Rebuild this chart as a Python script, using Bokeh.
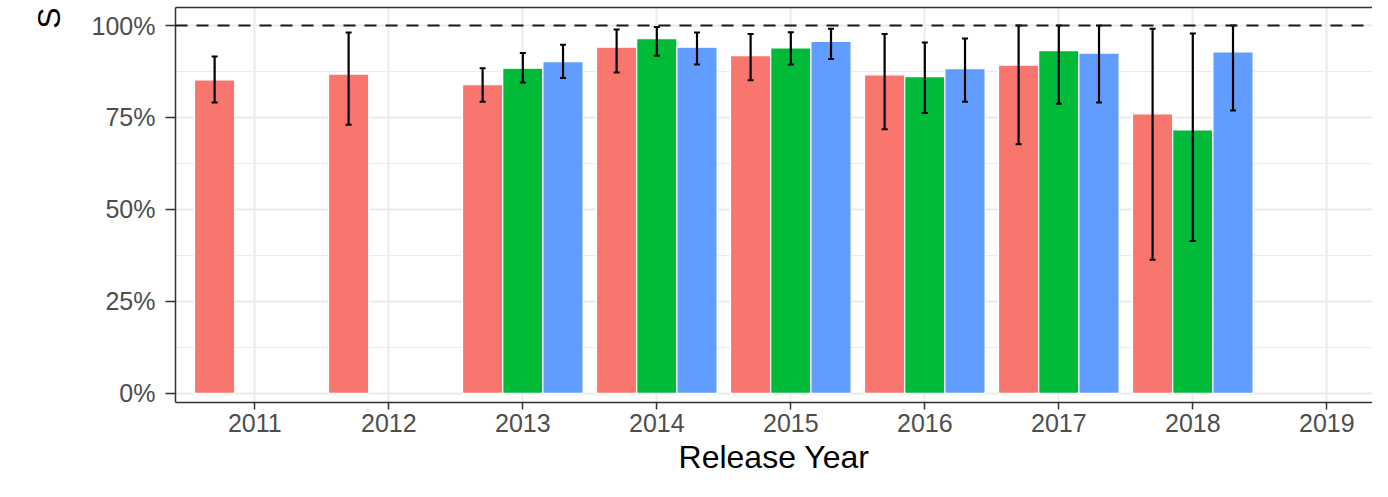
import math
from bokeh.plotting import figure
from bokeh.models import (ColumnDataSource, FixedTicker, PrintfTickFormatter, Whisker,
                          TeeHead, Span, LinearAxis, Title, Range1d)
from bokeh.transform import dodge
from bokeh.embed import file_html
from bokeh.resources import INLINE

# ---- data (success rate, %) ----
red_years = [2011, 2012, 2013, 2014, 2015, 2016, 2017, 2018]
red_rate = [85.2, 86.8, 83.9, 94.1, 91.8, 86.6, 89.2, 76.0]
red_lo = [79.1, 73.0, 79.3, 87.2, 85.1, 71.8, 67.7, 36.3]
red_hi = [91.6, 98.1, 88.4, 98.9, 97.7, 97.7, 100.0, 99.1]

green_years = [2013, 2014, 2015, 2016, 2017, 2018]
green_rate = [88.4, 96.4, 93.9, 86.1, 93.2, 71.6]
green_lo = [84.5, 91.8, 89.4, 76.2, 78.7, 41.4]
green_hi = [92.5, 99.6, 98.2, 95.4, 100.0, 97.8]

blue_years = [2013, 2014, 2015, 2016, 2017, 2018]
blue_rate = [90.2, 94.1, 95.7, 88.3, 92.5, 92.8]
blue_lo = [85.7, 89.4, 90.9, 79.3, 79.1, 76.9]
blue_hi = [94.8, 98.1, 99.1, 96.5, 100.0, 100.0]

year_ticks = [2011, 2012, 2013, 2014, 2015, 2016, 2017, 2018, 2019]
y_ticks = [0, 25, 50, 75, 100]
y_minor = [12.5, 37.5, 62.5, 87.5]
reference_level = 100

colors = ["#F8766D", "#00BA38", "#619CFF"]
offsets = [-0.3, 0.0, 0.3]
bar_w = 0.3

W, H = 1372, 481
LEFT, TOP, BOTTOM = 175, 7, 79
X0, X1 = 2010.408, 2019.341
Y0, Y1 = -2.5, 104.9

p = figure(width=W, height=H, output_backend="svg", toolbar_location=None,
           x_range=Range1d(X0, X1), y_range=Range1d(Y0, Y1),
           min_border_left=LEFT, min_border_right=0, min_border_top=TOP,
           min_border_bottom=BOTTOM)
p.outline_line_color = None
p.background_fill_color = "white"

# grid
p.xgrid.grid_line_color = "#EBEBEB"
p.xgrid.grid_line_width = 2
p.ygrid.grid_line_color = "#EBEBEB"
p.ygrid.grid_line_width = 2
p.ygrid.minor_grid_line_color = "#EBEBEB"
p.ygrid.minor_grid_line_width = 1.2

# axes
p.xaxis.ticker = FixedTicker(ticks=year_ticks)
p.xaxis.formatter = PrintfTickFormatter(format="%d")
p.yaxis.ticker = FixedTicker(ticks=y_ticks, minor_ticks=y_minor)
p.yaxis.formatter = PrintfTickFormatter(format="%d%%")
for ax in (p.xaxis[0], p.yaxis[0]):
    ax.axis_line_color = "#333333"
    ax.axis_line_width = 1.5
    ax.major_tick_line_color = "#333333"
    ax.major_tick_line_width = 1.5
    ax.major_tick_in = 0
    ax.minor_tick_line_color = None
    ax.major_label_text_color = "#4D4D4D"
    ax.major_label_text_font = "Liberation Sans"
p.yaxis.major_tick_out = 10
p.yaxis.major_label_text_font_size = "25px"
p.yaxis.major_label_standoff = 10
p.xaxis.major_tick_out = 7
p.xaxis.major_label_text_font_size = "25px"
p.xaxis.major_label_standoff = 4
p.xaxis.axis_label = "Release Year"
p.xaxis.axis_label_text_font = "Liberation Sans"
p.xaxis.axis_label_text_font_size = "32px"
p.xaxis.axis_label_text_font_style = "normal"
p.xaxis.axis_label_text_color = "black"
p.xaxis.axis_label_standoff = 4

top_axis = LinearAxis(ticker=FixedTicker(ticks=[]), major_label_text_font_size="0px",
                      axis_line_color="#333333", axis_line_width=1.5,
                      major_tick_out=0, minor_tick_out=0, major_tick_line_color=None,
                      minor_tick_line_color=None)
p.add_layout(top_axis, "above")

# y-axis title: only its first letter shows in the reference
p.add_layout(Title(text="S", align="right", vertical_align="top",
                   text_font="Liberation Sans", text_font_size="32px",
                   text_font_style="normal", text_color="black", standoff=40), "left")

series = [
    (red_years, red_rate, red_lo, red_hi),
    (green_years, green_rate, green_lo, green_hi),
    (blue_years, blue_rate, blue_lo, blue_hi),
]
sources = []
for (yrs, rate, lo, hi), col, off in zip(series, colors, offsets):
    src = ColumnDataSource(dict(year=yrs, rate=rate, lo=lo, hi=hi))
    sources.append((src, off))
    p.vbar(x=dodge("year", off, range=p.x_range), top="rate", bottom=0, width=bar_w,
           source=src, fill_color=col, line_color="white", line_width=1.2)

for src, off in sources:
    w = Whisker(source=src, base=dodge("year", off, range=p.x_range), upper="hi", lower="lo",
                level="annotation", line_color="black", line_width=2.2,
                upper_head=TeeHead(size=6, line_color="black", line_width=2),
                lower_head=TeeHead(size=6, line_color="black", line_width=2))
    p.add_layout(w)

p.add_layout(Span(location=reference_level, dimension="width", line_color="#1a1a1a",
                  line_dash="12 9", line_width=2, level="annotation"))

open("out.html", "w").write(file_html(p, INLINE))
